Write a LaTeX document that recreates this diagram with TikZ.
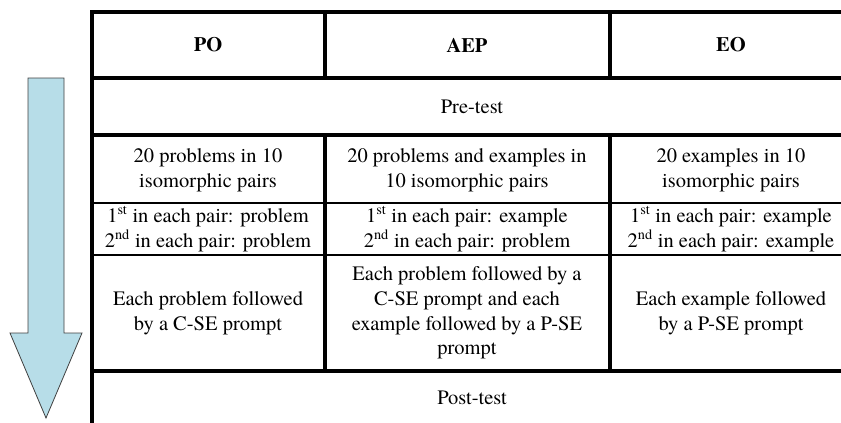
\documentclass[tikz,border=0pt]{standalone}
\usepackage{fontspec}
\setmainfont{TeX Gyre Termes}
\definecolor{arrowblue}{HTML}{B7DDE8}
\definecolor{arrowedge}{HTML}{404040}
\begin{document}
\begin{tikzpicture}[x=1pt,y=-1pt,
  thickrule/.style={line width=4pt, line cap=butt},
  thinrule/.style={line width=1.5pt, line cap=butt},
  cell/.style={align=center, font=\fontsize{20.5}{24.8}\selectfont, inner sep=0pt},
  head/.style={align=center, font=\fontsize{20.5}{24.8}\selectfont\bfseries, inner sep=0pt},
  flowarrow/.style={fill=arrowblue, draw=arrowedge, line width=0.8pt, line join=miter}]
\useasboundingbox (0,0) rectangle (841,423);
% timeline arrow
\draw[flowarrow] (28,78) -- (64,78) -- (64,333) -- (82,333) -- (46,418) -- (10,333) -- (28,333) -- cycle;
% table rules
\draw[thickrule, line join=miter] (841,12) -- (92,12) -- (92,423);
\draw[thickrule] (92,78) -- (841,78);
\draw[thickrule] (92,135) -- (841,135);
\draw[thinrule] (92,203) -- (841,203);
\draw[thinrule] (92,255) -- (841,255);
\draw[thickrule] (92,371) -- (841,371);
\draw[thickrule] (325,12) -- (325,78);
\draw[thickrule] (610,12) -- (610,78);
\draw[thickrule] (325,135) -- (325,371);
\draw[thickrule] (610,135) -- (610,371);
% header
\node[head] (po) at (208,45) {PO};
\node[head] (aep) at (467,45) {AEP};
\node[head] (eo) at (731,45) {EO};
% pre-test
\node[cell] (pre) at (472,107) {Pre-test};
% row 1
\node[cell] (po1) at (208,170) {20 problems in 10\\isomorphic pairs};
\node[cell] (aep1) at (467,170) {20 problems and examples in\\10 isomorphic pairs};
\node[cell] (eo1) at (731,170) {20 examples in 10\\isomorphic pairs};
% row 2
\node[cell] (po2) at (208,229) {1\textsuperscript{st} in each pair: problem\\2\textsuperscript{nd} in each pair: problem};
\node[cell] (aep2) at (467,229) {1\textsuperscript{st} in each pair: example\\2\textsuperscript{nd} in each pair: problem};
\node[cell] (eo2) at (731,229) {1\textsuperscript{st} in each pair: example\\2\textsuperscript{nd} in each pair: example};
% row 3
\node[cell] (po3) at (208,313) {Each problem followed\\by a C-SE prompt};
\node[cell] (aep3) at (467,313) {Each problem followed by a\\C-SE prompt and each\\example followed by a P-SE\\prompt};
\node[cell] (eo3) at (731,313) {Each example followed\\by a P-SE prompt};
% post-test
\node[cell] (post) at (472,398) {Post-test};
\end{tikzpicture}
\end{document}
